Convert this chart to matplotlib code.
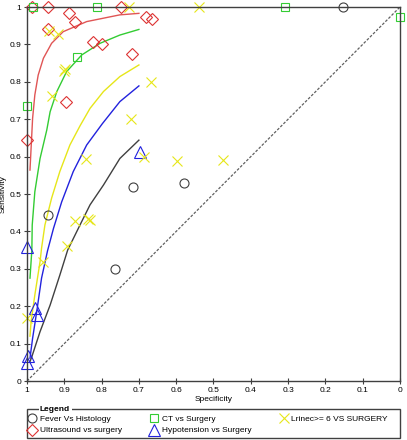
from matplotlib import pyplot as plt
from matplotlib.patches import Rectangle

plt.rcParams['font.family'] = ['Liberation Sans', 'DejaVu Sans']
plt.rcParams['font.size'] = 6

# study points (specificity, sensitivity)
fever_spec = [0.154, 0.715, 0.578, 0.945, 0.764]
fever_sens = [1.0, 0.518, 0.530, 0.444, 0.299]

us_spec = [0.986, 0.943, 0.887, 0.871, 0.749, 0.682, 0.666, 0.943, 0.822, 0.799, 0.719, 0.895, 1.0]
us_sens = [1.0, 1.0, 0.983, 0.959, 1.0, 0.974, 0.967, 0.940, 0.906, 0.900, 0.874, 0.747, 0.644]

ct_spec = [0.983, 0.813, 0.308, 0.0, 0.865, 1.0]
ct_sens = [1.0, 1.0, 1.0, 0.974, 0.865, 0.736]

hypo_spec = [0.697, 1.0, 0.979, 0.974, 0.996, 1.0]
hypo_sens = [0.613, 0.359, 0.196, 0.176, 0.067, 0.047]

lrinec_spec = [0.726, 0.539, 0.941, 0.916, 0.901, 0.897, 0.934, 0.668, 0.721, 0.842,
               0.686, 0.599, 0.474, 0.871, 0.836, 0.831, 0.894, 0.958, 1.0]
lrinec_sens = [1.0, 1.0, 0.937, 0.929, 0.830, 0.833, 0.763, 0.800, 0.700, 0.593,
               0.600, 0.588, 0.591, 0.428, 0.433, 0.430, 0.362, 0.319, 0.168]

# SROC curves
us_curve_spec = [0.992, 0.985, 0.979, 0.970, 0.956, 0.934, 0.903, 0.840, 0.751, 0.700]
us_curve_sens = [0.564, 0.702, 0.765, 0.818, 0.863, 0.903, 0.934, 0.961, 0.979, 0.983]

ct_curve_spec = [0.992, 0.987, 0.986, 0.979, 0.965, 0.947, 0.938, 0.920, 0.894, 0.853, 0.804, 0.751, 0.700]
ct_curve_sens = [0.275, 0.350, 0.417, 0.506, 0.595, 0.671, 0.720, 0.774, 0.827, 0.872, 0.903, 0.925, 0.940]

lr_curve_spec = [0.992, 0.989, 0.979, 0.965, 0.961, 0.952, 0.934, 0.912, 0.885, 0.858, 0.831, 0.795, 0.751, 0.700]
lr_curve_sens = [0.120, 0.159, 0.230, 0.319, 0.355, 0.417, 0.489, 0.560, 0.631, 0.682, 0.729, 0.774, 0.814, 0.845]

hy_curve_spec = [0.992, 0.985, 0.974, 0.961, 0.945, 0.929, 0.907, 0.876, 0.840, 0.798, 0.751, 0.700]
hy_curve_sens = [0.061, 0.114, 0.185, 0.275, 0.348, 0.408, 0.479, 0.560, 0.631, 0.688, 0.747, 0.789]

fv_curve_spec = [0.992, 0.987, 0.965, 0.938, 0.912, 0.891, 0.858, 0.831, 0.795, 0.751, 0.700]
fv_curve_sens = [0.052, 0.065, 0.132, 0.203, 0.283, 0.350, 0.417, 0.471, 0.524, 0.595, 0.644]

ticks = [1, 0.9, 0.8, 0.7, 0.6, 0.5, 0.4, 0.3, 0.2, 0.1, 0]
tick_labels = ['1', '0.9', '0.8', '0.7', '0.6', '0.5', '0.4', '0.3', '0.2', '0.1', '0']

c_black = '#404040'
c_red = '#dd3333'
c_green = '#33cc33'
c_yellow = '#e6e619'
c_blue = '#2222dd'

fig = plt.figure(figsize=(4.07, 4.40), dpi=100)
ax = fig.add_axes([27/407, 59/440, 373/407, 374/440])

ax.plot([1, 0], [0, 1], color='#606060', linestyle=(0, (2.2, 1.3)), linewidth=0.9)

ax.plot(us_curve_spec, us_curve_sens, color='#e05555', lw=1)
ax.plot(ct_curve_spec, ct_curve_sens, color=c_green, lw=1)
ax.plot(lr_curve_spec, lr_curve_sens, color=c_yellow, lw=1)
ax.plot(hy_curve_spec, hy_curve_sens, color=c_blue, lw=1)
ax.plot(fv_curve_spec, fv_curve_sens, color=c_black, lw=1)

kw = dict(linestyle='none', markerfacecolor='none', markeredgewidth=0.8, clip_on=False)
h1, = ax.plot(fever_spec, fever_sens, marker='o', markersize=6.5, color=c_black, **kw)
h2, = ax.plot(us_spec, us_sens, marker='D', markersize=5.8, color=c_red, **kw)
h3, = ax.plot(ct_spec, ct_sens, marker='s', markersize=6, color=c_green, **kw)
h4, = ax.plot(hypo_spec, hypo_sens, marker='^', markersize=8, color=c_blue, **kw)
h5, = ax.plot(lrinec_spec, lrinec_sens, marker='x', markersize=7, color=c_yellow,
              linestyle='none', markeredgewidth=0.8, clip_on=False)

ax.set_xlim(1, 0)
ax.set_ylim(0, 1)
ax.set_xticks(ticks)
ax.set_xticklabels(tick_labels)
ax.set_yticks(ticks)
ax.set_yticklabels(tick_labels)
ax.tick_params(direction='inout', length=5, width=0.8, color=c_black, pad=1.5, labelsize=6)
for s in ax.spines.values():
    s.set_color(c_black)
    s.set_linewidth(1)
ax.set_xlabel('Specificity', labelpad=2)
ax.set_ylabel('Sensitivity')
ax.yaxis.set_label_coords(-0.054, 0.5)

# legend box drawn like a fieldset
fig.patches.append(Rectangle((27/407, 2/440), 373/407, 29/440, transform=fig.transFigure,
                             fill=False, edgecolor=c_black, linewidth=1))
fig.text(40/407, 31/440, 'Legend', fontsize=6, fontweight='bold', va='center', ha='left',
         bbox=dict(facecolor='white', edgecolor='none', pad=1))

handles = [h1, h2, h3, h4, h5]
labels = ['Fever Vs Histology', 'Ultrasound vs surgery', 'CT vs Surgery',
          'Hypotension vs Surgery', 'Lrinec>= 6 VS SURGERY']
fig.legend(handles, labels, loc='upper left', bbox_to_anchor=(28/407, 25/440),
           ncol=3, frameon=False, fontsize=6, handlelength=1.0,
           handletextpad=0.4, labelspacing=0.45, borderpad=0, borderaxespad=0, columnspacing=3.4)

fig.savefig('out.png', dpi=100)
